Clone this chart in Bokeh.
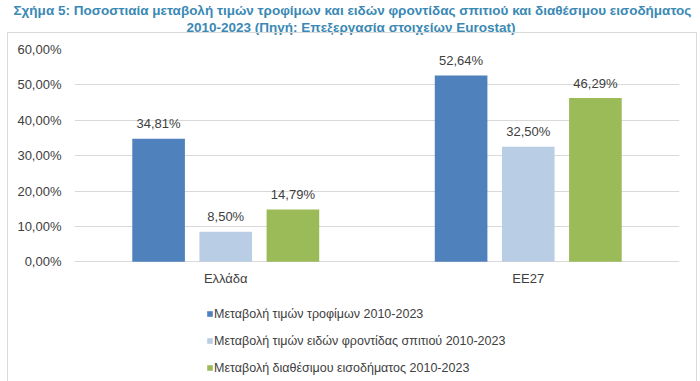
from bokeh.plotting import figure
from bokeh.models import (ColumnDataSource, FactorRange, Range1d, FixedTicker,
                          LabelSet, Legend, LegendItem, Title, InlineStyleSheet)
from bokeh.transform import dodge
from bokeh.core.properties import value
from bokeh.embed import file_html
from bokeh.resources import INLINE

# ---- data ----
categories = ["Ελλάδα", "ΕΕ27"]
food_prices = [34.81, 52.64]
home_care_prices = [8.50, 32.50]
disposable_income = [14.79, 46.29]
series_names = [
    "Μεταβολή τιμών τροφίμων 2010-2023",
    "Μεταβολή τιμών ειδών φροντίδας σπιτιού 2010-2023",
    "Μεταβολή διαθέσιμου εισοδήματος 2010-2023",
]
y_ticks = [0, 10, 20, 30, 40, 50, 60]
y_tick_labels = ["0,00%", "10,00%", "20,00%", "30,00%", "40,00%", "50,00%", "60,00%"]
title_line1 = "Σχήμα 5: Ποσοστιαία μεταβολή τιμών τροφίμων και ειδών φροντίδας σπιτιού και διαθέσιμου εισοδήματος"
title_line2 = "2010-2023 (Πηγή: Επεξεργασία στοιχείων Eurostat)"

def fmt(v):
    return f"{v:.2f}".replace(".", ",") + "%"

src = ColumnDataSource(dict(
    cat=categories,
    food=food_prices, home=home_care_prices, inc=disposable_income,
    food_lbl=[fmt(v) for v in food_prices],
    home_lbl=[fmt(v) for v in home_care_prices],
    inc_lbl=[fmt(v) for v in disposable_income],
))

FONT = "Liberation Sans"
TXT = "#404040"
FS = "13px"
TITLE_COLOR = "#3A89B4"
colors = ["#4F81BD", "#B9CDE5", "#9BBB59"]

# frame spans from the 60% line down to the bottom; the area below 0 holds
# the category labels and the legend
p = figure(width=700, height=381, x_range=FactorRange(*categories),
           y_range=Range1d(-33.8, 60), output_backend="svg", toolbar_location=None,
           min_border_left=74, min_border_right=21, min_border_top=48,
           min_border_bottom=0)
p.title.visible = False
p.outline_line_color = None
p.background_fill_color = "white"
p.border_fill_color = "white"

off = 0.222
w = 0.174
fields = ["food", "home", "inc"]
offsets = [-off, 0.0, off]
renderers = []
for f, o, c in zip(fields, offsets, colors):
    r = p.vbar(x=dodge("cat", o, range=p.x_range), top=f, width=w, source=src,
               fill_color=c, line_color=None)
    renderers.append(r)
    lbl = LabelSet(x=dodge("cat", o, range=p.x_range), y=f, text=f + "_lbl",
                   source=src, y_offset=15, text_align="center",
                   text_baseline="middle", text_font=value(FONT),
                   text_font_size=FS, text_color=TXT)
    p.add_layout(lbl)

# axes
p.yaxis.ticker = FixedTicker(ticks=y_ticks)
p.yaxis.major_label_overrides = {t: l for t, l in zip(y_ticks, y_tick_labels)}
p.xaxis.fixed_location = 0
for ax in (p.xaxis[0], p.yaxis[0]):
    ax.axis_line_color = None
    ax.major_tick_line_color = None
    ax.minor_tick_line_color = None
    ax.major_tick_in = 0
    ax.major_tick_out = 0
    ax.major_label_text_font = FONT
    ax.major_label_text_font_size = FS
    ax.major_label_text_color = TXT
p.yaxis.major_label_standoff = 13
p.xaxis.major_label_standoff = 9
p.xgrid.grid_line_color = None
p.ygrid.grid_line_color = "#D9D9D9"
p.ygrid.grid_line_width = 1

# legend under the category labels
legend = Legend(items=[LegendItem(label=n, renderers=[r]) for n, r in zip(series_names, renderers)],
                location=(132, 0), orientation="vertical",
                glyph_width=7, glyph_height=7, label_height=27, spacing=0,
                label_standoff=1, padding=0, margin=0,
                label_text_font=FONT, label_text_font_size="12.5px",
                label_text_color=TXT, border_line_color=None,
                background_fill_alpha=0)
p.add_layout(legend, "center")

# title (two lines); a thin spacer title keeps them clear of the plot frame
spacer = Title(text=" ", text_font_size="1px", standoff=12)
t2 = Title(text=title_line2, align="left", offset=112, text_font=FONT,
           text_font_style="bold", text_font_size="13.5px", text_color=TITLE_COLOR,
           standoff=0)
t1 = Title(text=title_line1, align="left", offset=-61, text_font=FONT,
           text_font_style="bold", text_font_size="13.5px", text_color=TITLE_COLOR,
           standoff=0)
p.add_layout(spacer, "above")
p.add_layout(t2, "above")
p.add_layout(t1, "above")

# light frame box around the chart area (below the title)
p.stylesheets = [InlineStyleSheet(css="""
:host::after { content: ""; position: absolute; left: 7px; right: 3px; top: 32px;
  bottom: 0px; border: 1px solid #D9D9D9; border-bottom: none; pointer-events: none; }
""")]

open("out.html", "w").write(file_html(p, INLINE))
